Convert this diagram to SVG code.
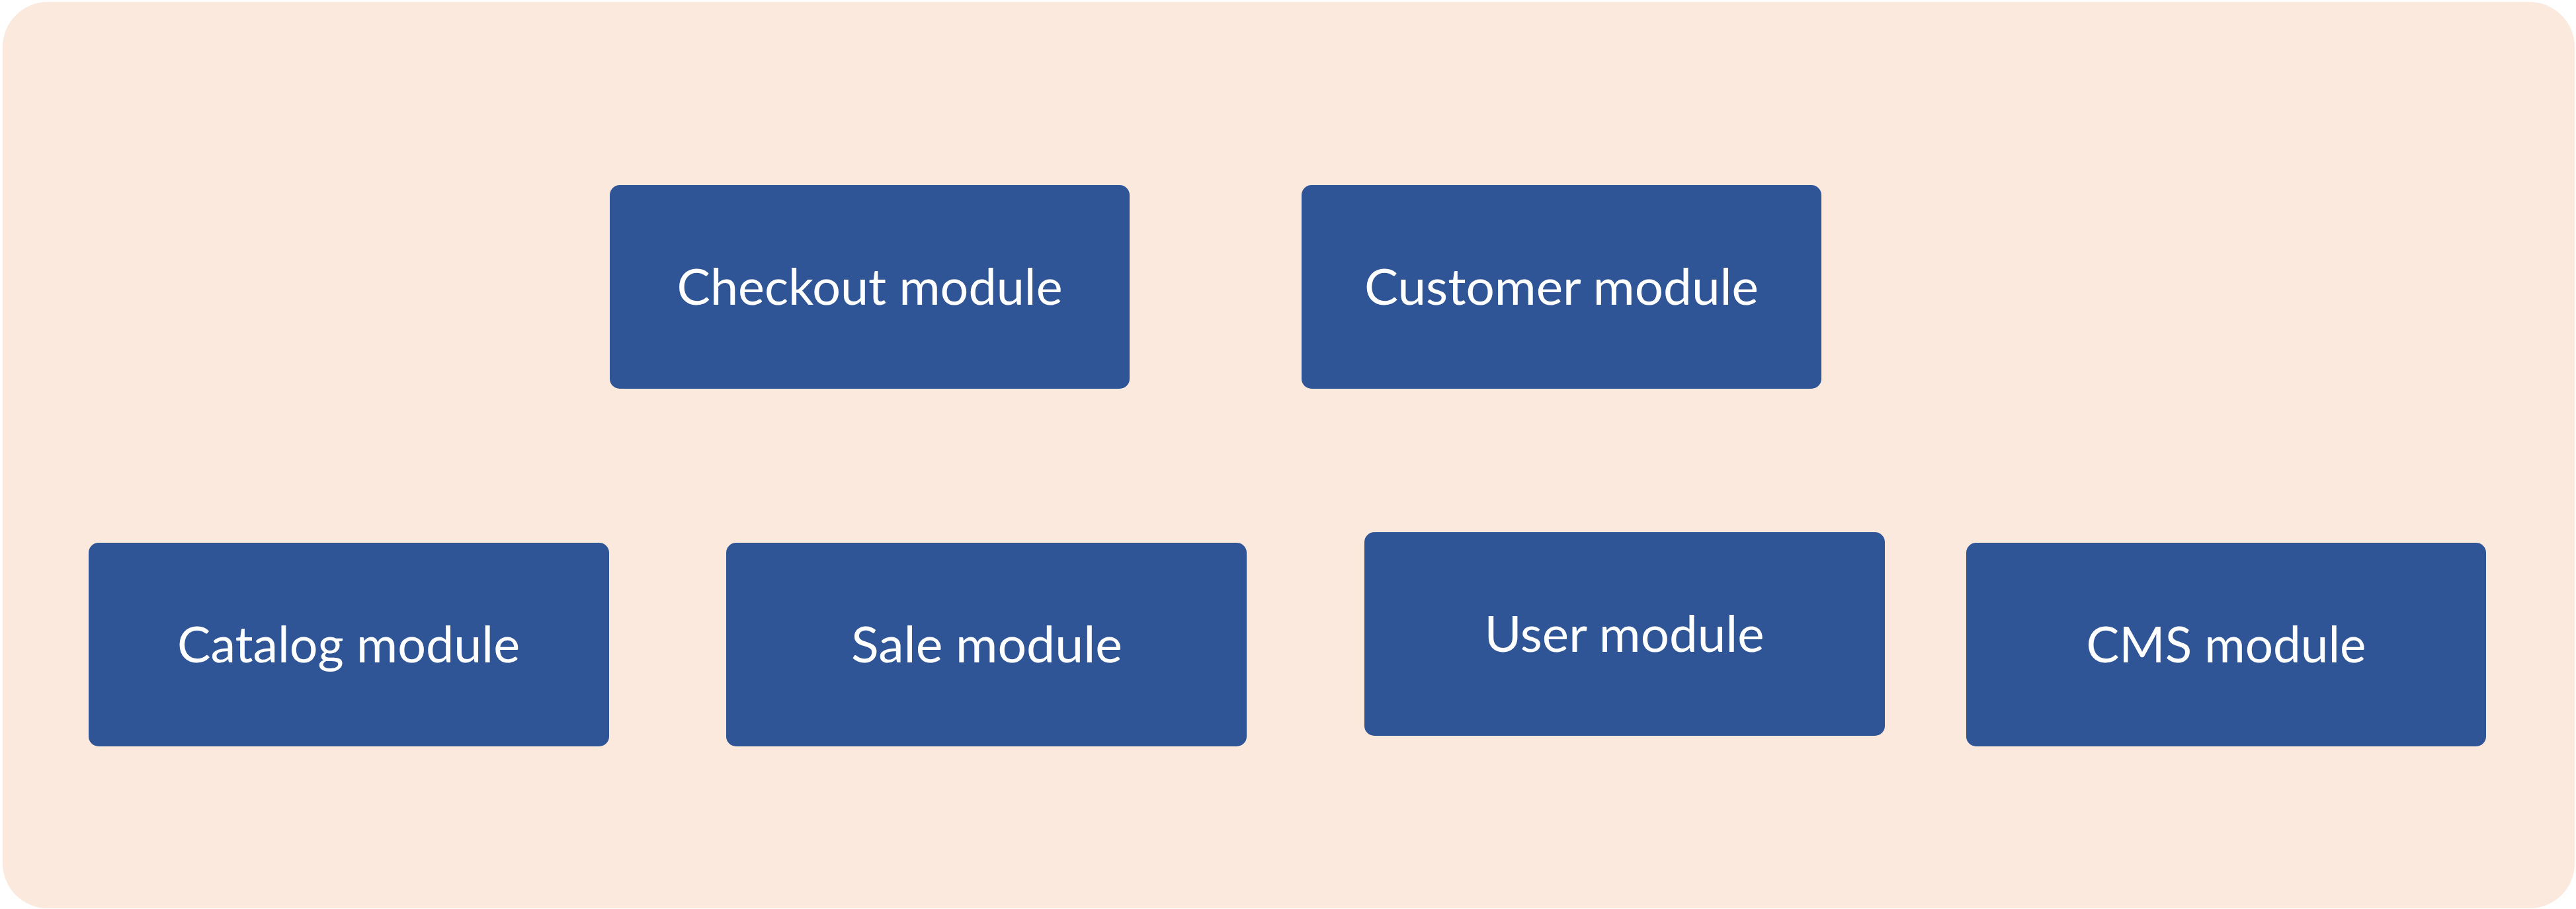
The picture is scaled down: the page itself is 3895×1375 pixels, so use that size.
<svg xmlns="http://www.w3.org/2000/svg" width="3895" height="1375" viewBox="0 0 3895 1375">
<style>
.bg{fill:#FBE9DE;}
.box{fill:#2F5597;}
.lbl{fill:#FFFFFF;font-family:Lato,"Open Sans","Liberation Sans",sans-serif;font-size:75px;text-anchor:middle;}
</style>
<rect class="bg" x="4" y="3" width="3889" height="1371" rx="68" ry="68"/>
<g id="connectors"></g>
<g id="checkout">
<rect class="box" x="922" y="280" width="786" height="308" rx="15" ry="15"/>
<text class="lbl" x="1315" y="461" textLength="583" lengthAdjust="spacingAndGlyphs">Checkout module</text>
</g>
<g id="customer">
<rect class="box" x="1968" y="280" width="786" height="308" rx="15" ry="15"/>
<text class="lbl" x="2361" y="461" textLength="596" lengthAdjust="spacingAndGlyphs">Customer module</text>
</g>
<g id="catalog">
<rect class="box" x="134" y="821" width="787" height="308" rx="15" ry="15"/>
<text class="lbl" x="527" y="1002" textLength="518" lengthAdjust="spacingAndGlyphs">Catalog module</text>
</g>
<g id="sale">
<rect class="box" x="1098" y="821" width="787" height="308" rx="15" ry="15"/>
<text class="lbl" x="1492" y="1002" textLength="410" lengthAdjust="spacingAndGlyphs">Sale module</text>
</g>
<g id="user">
<rect class="box" x="2063" y="805" width="787" height="308" rx="15" ry="15"/>
<text class="lbl" x="2456" y="986" textLength="423" lengthAdjust="spacingAndGlyphs">User module</text>
</g>
<g id="cms">
<rect class="box" x="2973" y="821" width="786" height="308" rx="15" ry="15"/>
<text class="lbl" x="3366" y="1002" textLength="423" lengthAdjust="spacingAndGlyphs">CMS module</text>
</g>
</svg>
